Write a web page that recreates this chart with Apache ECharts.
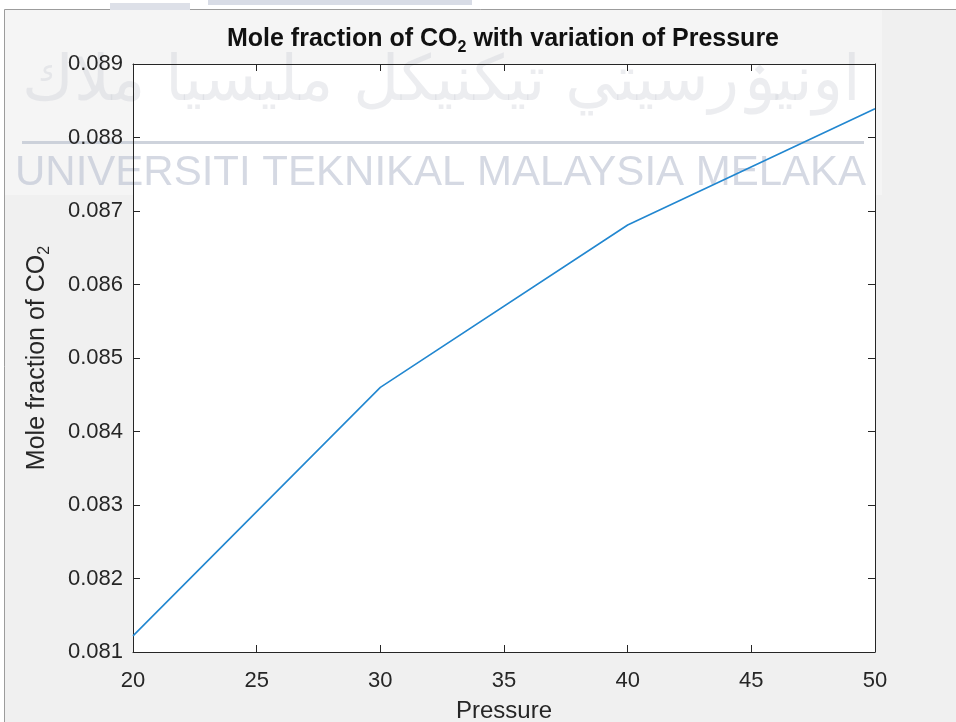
<!DOCTYPE html>
<html>
<head>
<meta charset="utf-8">
<script src="https://cdn.jsdelivr.net/npm/echarts@6/dist/echarts.min.js"></script>
<style>
html,body{margin:0;padding:0;background:#ffffff;}
#chart{width:956px;height:722px;}
</style>
</head>
<body>
<div id="chart"></div>
<script>
// ---- data ----
const pressure = [20, 30, 40, 50];
const moleFractionCO2 = [0.08122, 0.0846, 0.08681, 0.08839];
const xTicks = [20, 25, 30, 35, 40, 45, 50];
const yTicks = [0.081, 0.082, 0.083, 0.084, 0.085, 0.086, 0.087, 0.088, 0.089];
const titleParts = ['Mole fraction of CO', '2', ' with variation of Pressure'];
const xName = 'Pressure';
const yNameParts = ['Mole fraction of CO', '2'];
const watermarkEn = 'UNIVERSITI TEKNIKAL MALAYSIA MELAKA';
const watermarkJawi = 'اونيۏرسيتي تيكنيكل مليسيا ملاك';

const FONT = '"Liberation Sans", Arial, Helvetica, sans-serif';
const AX = '#262626';

const chart = echarts.init(document.getElementById('chart'));
const xMin = xTicks[0], xMax = xTicks[xTicks.length - 1];
const yMin = yTicks[0], yMax = yTicks[yTicks.length - 1];

const baseAxisX = {
  type: 'value', min: xMin, max: xMax, interval: 5,
  axisLine: { show: true, onZero: false, lineStyle: { color: AX, width: 1 } },
  axisTick: { show: true, inside: true, length: 7, lineStyle: { color: AX } },
  splitLine: { show: false },
  z: 5
};
const baseAxisY = {
  type: 'value', min: yMin, max: yMax, interval: 0.001,
  axisLine: { show: true, onZero: false, lineStyle: { color: AX, width: 1 } },
  axisTick: { show: true, inside: true, length: 7, lineStyle: { color: AX } },
  splitLine: { show: false },
  z: 5
};

chart.setOption({
  animation: false,
  backgroundColor: 'transparent',
  title: {
    text: '{a|' + titleParts[0] + '}{s|' + titleParts[1] + '}{a|' + titleParts[2] + '}',
    left: 498, top: 17, textAlign: 'center',
    textStyle: {
      rich: {
        a: { fontFamily: FONT, fontSize: 25, fontWeight: 'bold', color: '#111', lineHeight: 34 },
        s: { fontFamily: FONT, fontSize: 16, fontWeight: 'bold', color: '#111', lineHeight: 16, verticalAlign: 'bottom' }
      }
    }
  },
  grid: { left: 133, right: 81, top: 64, bottom: 70, show: true, backgroundColor: '#ffffff',
    borderWidth: 0, z: 0, containLabel: false, outerBoundsMode: 'none' },
  graphic: [
    { type: 'rect', z: -20, silent: true, shape: { x: 4.5, y: 9.5, width: 980, height: 800 },
      style: { fill: '#f0f0f0', stroke: '#9c9c9c', lineWidth: 1 } },
    { type: 'rect', z: -19, silent: true, shape: { x: 5, y: 10, width: 877, height: 185 },
      style: { fill: 'rgba(255,255,255,0.35)' } },
    { type: 'rect', z: -18, silent: true, shape: { x: 208, y: 0, width: 264, height: 5 },
      style: { fill: '#d8dce6' } },
    { type: 'rect', z: -18, silent: true, shape: { x: 110, y: 3, width: 80, height: 7 },
      style: { fill: '#dde0e8' } },
    { type: 'text', z: 1, silent: true, left: 22, top: 52,
      style: { text: watermarkJawi, font: '63px "DejaVu Sans", sans-serif', fill: 'rgba(200,204,212,0.35)' } },
    { type: 'rect', z: 1, silent: true, shape: { x: 22, y: 141, width: 842, height: 3 },
      style: { fill: 'rgba(190,196,208,0.75)' } },
    { type: 'text', z: 1, silent: true, left: 15, top: 152,
      style: { text: watermarkEn, font: '42px ' + FONT, fill: 'rgba(185,192,208,0.6)' } }
  ],
  xAxis: [
    Object.assign({}, baseAxisX, {
      position: 'bottom',
      name: xName, nameLocation: 'middle', nameGap: 47,
      nameTextStyle: { fontFamily: FONT, fontSize: 24, color: AX },
      axisLabel: { show: true, margin: 18, fontFamily: FONT, fontSize: 22, color: AX }
    }),
    Object.assign({}, baseAxisX, { position: 'top', axisLabel: { show: false } })
  ],
  yAxis: [
    Object.assign({}, baseAxisY, {
      position: 'left',
      name: '{a|' + yNameParts[0] + '}{s|' + yNameParts[1] + '}',
      nameLocation: 'middle', nameGap: 80, nameRotate: 90,
      nameTextStyle: {
        rich: {
          a: { fontFamily: FONT, fontSize: 25, color: AX, lineHeight: 32 },
          s: { fontFamily: FONT, fontSize: 16, color: AX, lineHeight: 16, verticalAlign: 'bottom' }
        }
      },
      axisLabel: { show: true, margin: 10, fontFamily: FONT, fontSize: 22, color: AX,
        formatter: function (v) { return v.toFixed(3); } }
    }),
    Object.assign({}, baseAxisY, { position: 'right', axisLabel: { show: false } })
  ],
  series: [{
    type: 'line',
    data: pressure.map(function (p, i) { return [p, moleFractionCO2[i]]; }),
    showSymbol: false,
    lineStyle: { color: '#2287d0', width: 1.6 },
    z: 10
  }]
});
</script>
</body>
</html>
